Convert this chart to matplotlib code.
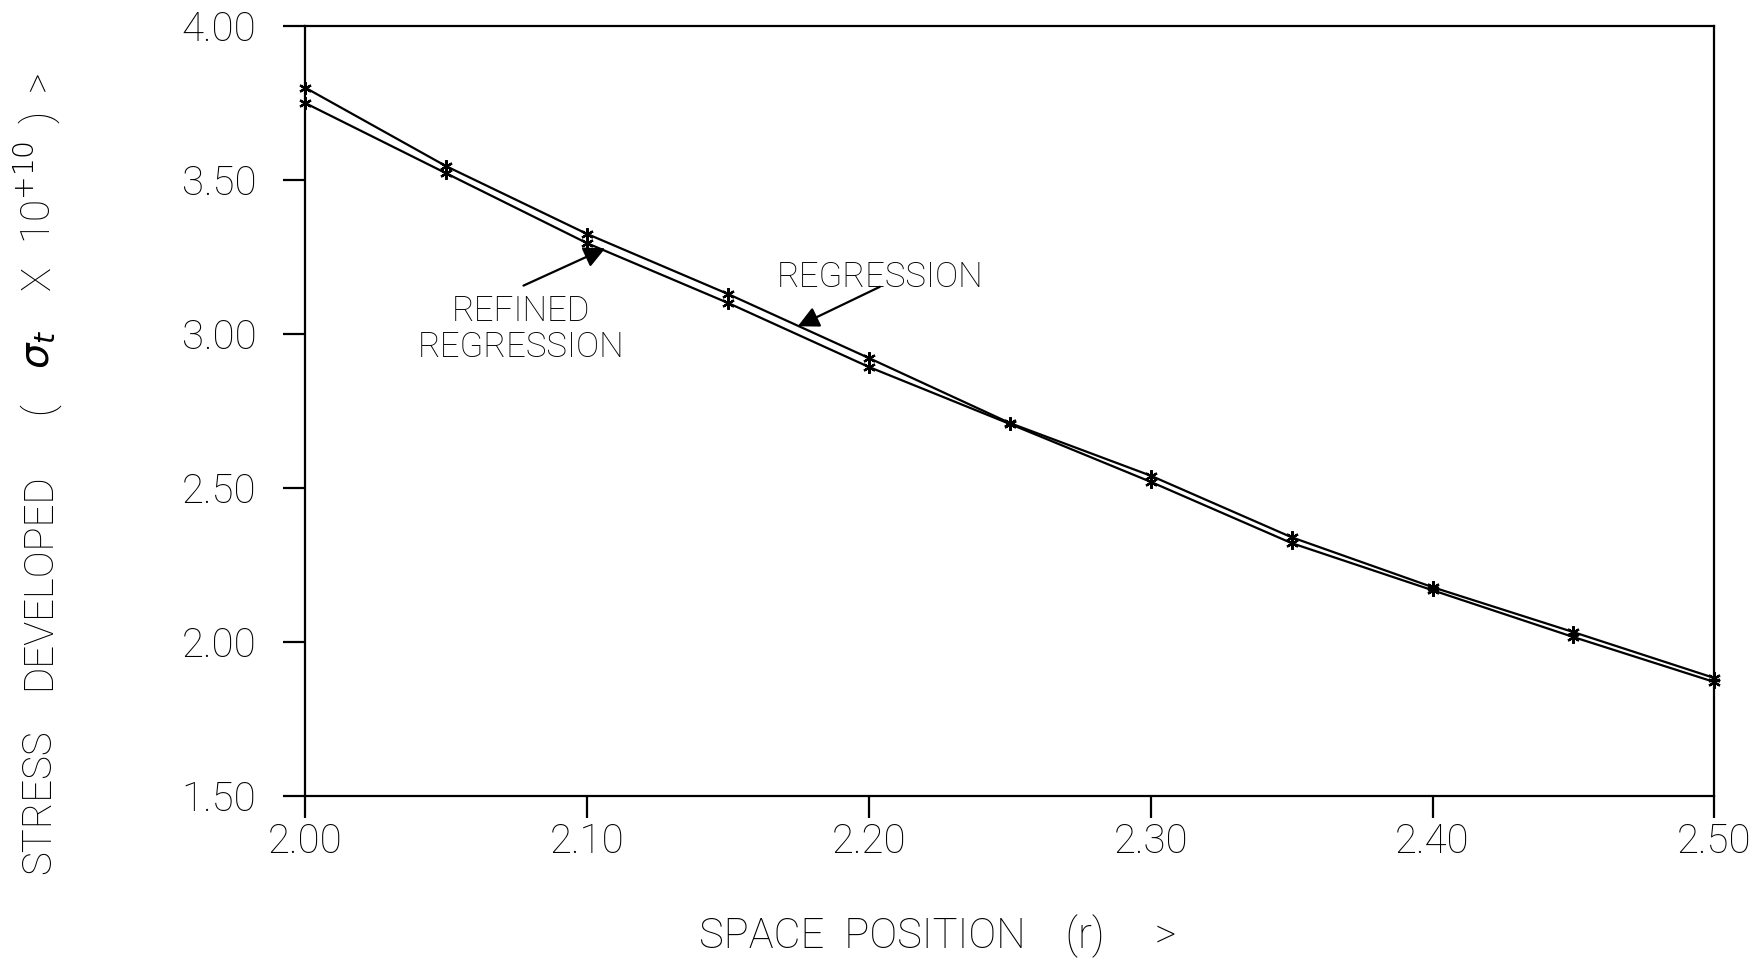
import matplotlib
matplotlib.use("Agg")
import matplotlib.pyplot as plt
from matplotlib.ticker import FormatStrFormatter

# values
r = [2.00, 2.05, 2.10, 2.15, 2.20, 2.25, 2.30, 2.35, 2.40, 2.45, 2.50]
regression = [3.80, 3.545, 3.325, 3.130, 2.922, 2.711, 2.540, 2.340, 2.178, 2.032, 1.883]
refined = [3.75, 3.522, 3.295, 3.101, 2.893, 2.708, 2.520, 2.321, 2.168, 2.016, 1.870]

x_ticks = [2.00, 2.10, 2.20, 2.30, 2.40, 2.50]
y_ticks = [1.50, 2.00, 2.50, 3.00, 3.50, 4.00]

# y axis title pieces, spread out like the plotter lettering
ylabel_parts = ['STRESS', 'DEVELOPED', '(', r'$\sigma_t$', 'X', r'10$^{+10}$', ')', '>']

plt.rcParams['font.family'] = ['Roboto', 'DejaVu Sans']
plt.rcParams['font.weight'] = 'light'
plt.rcParams['mathtext.fontset'] = 'dejavusans'

fig = plt.figure(figsize=(17.53, 9.61), dpi=100, facecolor='white')
ax = fig.add_axes([0.174, 0.1717, 0.804, 0.8013])

ink = 'black'
for y in (regression, refined):
    ax.plot(r, y, color=ink, linewidth=1.6, marker=(6, 2, 0),
            markersize=9, markeredgewidth=1.6, clip_on=False, zorder=3)

ax.set_xlim(2.00, 2.50)
ax.set_ylim(1.50, 4.00)
ax.set_xticks(x_ticks)
ax.set_yticks(y_ticks)
ax.xaxis.set_major_formatter(FormatStrFormatter('%.2f'))
ax.yaxis.set_major_formatter(FormatStrFormatter('%.2f'))
ax.tick_params(axis='both', direction='out', length=16, width=1.6,
               labelsize=29, colors=ink)
ax.tick_params(axis='y', pad=19)
ax.tick_params(axis='x', pad=3)
for s in ax.spines.values():
    s.set_linewidth(1.6)

# annotations with filled arrow heads
arrow = dict(arrowstyle='-|>', color=ink, lw=1.6, mutation_scale=32,
             shrinkA=0, shrinkB=0)
ax.text(2.2039, 3.185, 'REGRESSION', fontsize=25, ha='center', va='center')
ax.annotate('', xy=(2.1748, 3.025), xytext=(2.2039, 3.153), arrowprops=arrow)
ax.text(2.0766, 3.014, 'REFINED\nREGRESSION', fontsize=25, ha='center',
        va='center', linespacing=1.1)
ax.annotate('', xy=(2.1065, 3.278), xytext=(2.0775, 3.157), arrowprops=arrow)

fig.text(0.399, 0.026, 'SPACE  POSITION    (r)', fontsize=30,
         ha='left', va='center')
fig.text(0.665, 0.026, '>', fontsize=30, ha='center', va='center')

ylabel_pos = [0.166, 0.395, 0.575, 0.637, 0.711, 0.800, 0.878, 0.916]
for txt, yp in zip(ylabel_parts, ylabel_pos):
    fig.text(0.022, yp, txt, fontsize=29, rotation=90, ha='center', va='center')

fig.savefig('out.png', dpi=100, facecolor='white')
